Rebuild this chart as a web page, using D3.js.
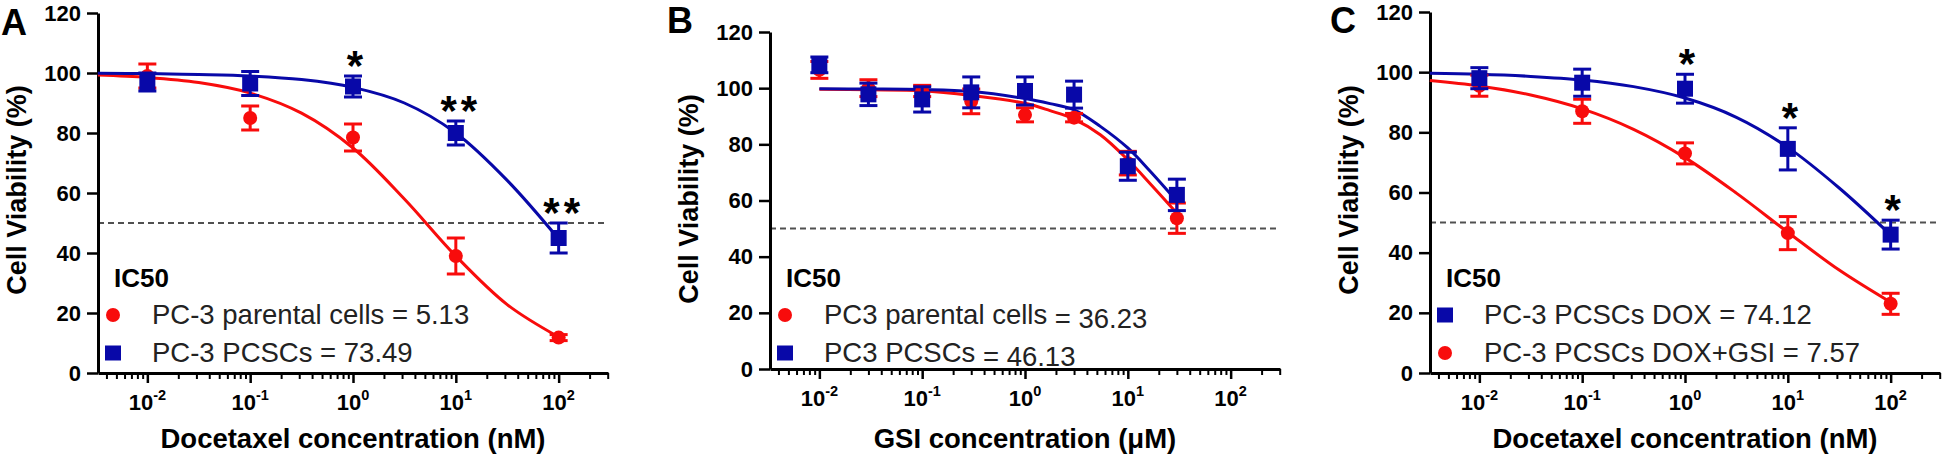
<!DOCTYPE html>
<html><head><meta charset="utf-8">
<script src="https://cdn.jsdelivr.net/npm/d3@7"></script>
<style>body{margin:0;background:#fff}svg{display:block}</style>
</head><body><svg id="c" width="1946" height="455"></svg>
<script>
// ---------- shared labels ----------
const Y_TICKS = [0, 20, 40, 60, 80, 100, 120];
const X_MAJOR_EXP = [-2, -1, 0, 1, 2];
const Y_LABEL = "Cell Viability (%)";
const LEGEND_TITLE = "IC50";

// ---------- Panel A ----------
const A_conc = [0.01, 0.1, 1, 10, 100];
const A_parental_mean = [99, 85, 78.5, 39, 11.8];
const A_parental_sem  = [4, 4, 4.5, 6, 1];
const A_pcsc_mean = [97, 96.5, 95.5, 80, 45];
const A_pcsc_sem  = [3, 4, 3.5, 4, 5];
const A_fit_conc = [0.0033, 0.01, 0.0316, 0.1, 0.316, 1, 3.16, 10, 31.6, 100];
const A_parental_fit = [99.3, 98.5, 96.8, 93.3, 86.6, 75, 58, 39, 22.8, 12];
const A_pcsc_fit     = [99.9, 99.8, 99.5, 99, 97.8, 95.2, 90, 80, 64.2, 44.7];
const A_legend = ["PC-3 parental cells = 5.13", "PC-3 PCSCs = 73.49"];
const A_star_conc = [1, 10, 100];
const A_star_text = ["*", "**", "**"];
const A_xlabel = "Docetaxel concentration (nM)";

// ---------- Panel B ----------
const B_conc = [0.01, 0.03, 0.1, 0.3, 1, 3, 10, 30];
const B_parental_mean = [106.5, 100, 99, 95.3, 90.5, 89.5, 73.3, 53.7];
const B_parental_sem  = [3, 3, 2, 4.4, 2.5, 1.5, 4.2, 5.4];
const B_pcsc_mean = [108.3, 97.8, 96, 98.5, 99, 97.7, 72.2, 62];
const B_pcsc_sem  = [2.8, 4, 4.5, 5.5, 5, 4.8, 5, 5.6];
const B_fit_conc = [0.01, 0.03, 0.1, 0.3, 1, 1.75, 3, 5.4, 10, 16.5, 30];
const B_parental_fit = [99.6, 99.4, 99.1, 97.4, 94.6, 92, 89, 83.4, 74.5, 66, 55.5];
const B_pcsc_fit     = [99.8, 99.7, 99.5, 98.8, 96.3, 94.5, 92.3, 86.4, 78.7, 70.4, 59.7];
const B_legend_name = ["PC3 parental cells", "PC3 PCSCs"];
const B_legend_val  = ["= 36.23", "= 46.13"];
const B_xlabel = "GSI concentration (\u03bcM)";

// ---------- Panel C ----------
const C_conc = [0.01, 0.1, 1, 10, 100];
const C_dox_mean = [98, 96.5, 94.5, 74.5, 46];
const C_dox_sem  = [3.5, 4.5, 4.8, 7, 4.8];
const C_doxgsi_mean = [95.5, 87, 73, 46.5, 23];
const C_doxgsi_sem  = [3.5, 4, 3.5, 5.5, 3.5];
const C_fit_conc = [0.0033, 0.01, 0.0316, 0.1, 0.316, 1, 3.16, 10, 31.6, 100];
const C_dox_fit    = [99.6, 99.3, 98.6, 97.4, 95.2, 91.4, 85, 75, 61.5, 45.9];
const C_doxgsi_fit = [97.2, 95.4, 92.4, 87.8, 81, 71.6, 59.8, 46.8, 34.2, 23.5];
const C_legend = ["PC-3 PCSCs DOX = 74.12", "PC-3 PCSCs DOX+GSI = 7.57"];
const C_star_conc = [1, 10, 100];
const C_star_text = ["*", "*", "*"];
const C_xlabel = "Docetaxel concentration (nM)";

// ---------- style ----------
const FONT = "Arial, 'Liberation Sans', Helvetica, sans-serif";
const RED = "#f80c0c", BLUE = "#0808a8";
const svg = d3.select("#c");

function zip(xs, ys) { return xs.map((x, i) => [x, ys[i]]); }

const panels = [
  { letter: "A", lx: 1, ly: 35, x0: 98, yTop: 13, yBot: 373, ylabelY: 190, xlabel: A_xlabel,
    series: [
      { color: RED, shape: "circle", conc: A_conc, mean: A_parental_mean, sem: A_parental_sem, fit: zip(A_fit_conc, A_parental_fit) },
      { color: BLUE, shape: "square", conc: A_conc, mean: A_pcsc_mean, sem: A_pcsc_sem, fit: zip(A_fit_conc, A_pcsc_fit) }
    ],
    legend: [{ shape: "circle", color: RED, text: A_legend[0] }, { shape: "square", color: BLUE, text: A_legend[1] }],
    stars: { conc: A_star_conc, text: A_star_text, ref: 1 } },
  { letter: "B", lx: 667, ly: 33, x0: 770, yTop: 32, yBot: 369, ylabelY: 199, xlabel: B_xlabel,
    series: [
      { color: RED, shape: "circle", conc: B_conc, mean: B_parental_mean, sem: B_parental_sem, fit: zip(B_fit_conc, B_parental_fit) },
      { color: BLUE, shape: "square", conc: B_conc, mean: B_pcsc_mean, sem: B_pcsc_sem, fit: zip(B_fit_conc, B_pcsc_fit) }
    ],
    legend: [{ shape: "circle", color: RED, text: B_legend_name[0], val: B_legend_val[0] },
             { shape: "square", color: BLUE, text: B_legend_name[1], val: B_legend_val[1] }],
    stars: null },
  { letter: "C", lx: 1330, ly: 33, x0: 1430, yTop: 12, yBot: 373, ylabelY: 190, xlabel: C_xlabel,
    series: [
      { color: RED, shape: "circle", conc: C_conc, mean: C_doxgsi_mean, sem: C_doxgsi_sem, fit: zip(C_fit_conc, C_doxgsi_fit) },
      { color: BLUE, shape: "square", conc: C_conc, mean: C_dox_mean, sem: C_dox_sem, fit: zip(C_fit_conc, C_dox_fit) }
    ],
    legend: [{ shape: "square", color: BLUE, text: C_legend[0] }, { shape: "circle", color: RED, text: C_legend[1] }],
    stars: { conc: C_star_conc, text: C_star_text, ref: 1 } }
];

const LOG_MIN = -2.48, LOG_MAX = 2.48, AXIS_W = 510;

panels.forEach(p => {
  const g = svg.append("g");
  const x = d3.scaleLog().domain([Math.pow(10, LOG_MIN), Math.pow(10, LOG_MAX)]).range([p.x0, p.x0 + AXIS_W]);
  const y = d3.scaleLinear().domain([0, 120]).range([p.yBot, p.yTop]);

  // panel letter
  g.append("text").attr("x", p.lx).attr("y", p.ly).text(p.letter)
    .attr("font-family", FONT).attr("font-weight", "bold").attr("font-size", 36);

  // dashed 50% line
  g.append("line").attr("x1", x.range()[0]).attr("x2", x.range()[1])
    .attr("y1", y(50)).attr("y2", y(50))
    .attr("stroke", "#505050").attr("stroke-width", 2).attr("stroke-dasharray", "6 4");

  // y axis
  const ya = g.append("g").attr("transform", `translate(${p.x0},0)`)
    .call(d3.axisLeft(y).tickValues(Y_TICKS).tickSize(11).tickSizeOuter(0).tickPadding(6));
  ya.select(".domain").attr("stroke", "#000").attr("stroke-width", 3);
  ya.selectAll(".tick line").attr("stroke", "#000").attr("stroke-width", 2.5);
  ya.selectAll(".tick text").attr("font-family", FONT).attr("font-weight", "bold")
    .attr("font-size", 22).attr("fill", "#000");

  // x axis minor ticks
  const minors = [];
  for (let k = -3; k <= 2; k++) for (let m = 2; m <= 9; m++) {
    const v = m * Math.pow(10, k);
    const lv = Math.log10(v);
    if (lv >= LOG_MIN && lv <= LOG_MAX) minors.push(v);
  }
  const xm = g.append("g").attr("transform", `translate(0,${p.yBot})`)
    .call(d3.axisBottom(x).tickValues(minors).tickSize(6).tickSizeOuter(0).tickFormat(() => ""));
  xm.select(".domain").remove();
  xm.selectAll(".tick line").attr("stroke", "#000").attr("stroke-width", 2);

  const majors = X_MAJOR_EXP.map(e => Math.pow(10, e));
  const xa = g.append("g").attr("transform", `translate(0,${p.yBot})`)
    .call(d3.axisBottom(x).tickValues(majors).tickSize(10).tickSizeOuter(0).tickFormat(() => ""));
  xa.select(".domain").attr("stroke", "#000").attr("stroke-width", 3);
  xa.selectAll(".tick line").attr("stroke", "#000").attr("stroke-width", 2.5);

  // x tick labels 10^n
  X_MAJOR_EXP.forEach(e => {
    const t = g.append("text").attr("x", x(Math.pow(10, e))).attr("y", p.yBot + 37)
      .attr("text-anchor", "middle").attr("font-family", FONT).attr("font-weight", "bold")
      .attr("font-size", 22);
    t.append("tspan").text("10");
    t.append("tspan").attr("dy", -10).attr("font-size", 14.5).text(String(e));
  });

  // axis titles
  g.append("text").attr("x", p.x0 + AXIS_W / 2).attr("y", 448).attr("text-anchor", "middle")
    .attr("font-family", FONT).attr("font-weight", "bold").attr("font-size", 27.5).text(p.xlabel);
  g.append("text").attr("transform", `translate(${p.x0 - 72},${p.ylabelY}) rotate(-90)`)
    .attr("text-anchor", "middle").attr("font-family", FONT).attr("font-weight", "bold")
    .attr("font-size", 27).text(Y_LABEL);

  // fitted curves
  const line = d3.line().x(d => x(d[0])).y(d => y(d[1])).curve(d3.curveCatmullRom.alpha(0.5));
  p.series.forEach(s => {
    g.append("path").attr("d", line(s.fit)).attr("fill", "none")
      .attr("stroke", s.color).attr("stroke-width", 3);
  });

  // error bars and markers
  p.series.forEach(s => {
    const sg = g.append("g");
    s.conc.forEach((c, i) => {
      const cx = x(c), top = y(s.mean[i] + s.sem[i]), bot = y(s.mean[i] - s.sem[i]);
      sg.append("line").attr("x1", cx).attr("x2", cx).attr("y1", top).attr("y2", bot)
        .attr("stroke", s.color).attr("stroke-width", 3);
      [top, bot].forEach(yy => sg.append("line").attr("x1", cx - 9).attr("x2", cx + 9)
        .attr("y1", yy).attr("y2", yy).attr("stroke", s.color).attr("stroke-width", 3));
      const cy = y(s.mean[i]);
      if (s.shape === "circle") sg.append("circle").attr("cx", cx).attr("cy", cy).attr("r", 7).attr("fill", s.color);
      else sg.append("rect").attr("x", cx - 8).attr("y", cy - 8).attr("width", 16).attr("height", 16).attr("fill", s.color);
    });
  });

  // significance stars
  if (p.stars) {
    const s = p.series[p.stars.ref];
    p.stars.conc.forEach((c, i) => {
      const idx = s.conc.indexOf(c);
      const capY = y(s.mean[idx] + s.sem[idx]);
      const txt = p.stars.text[i];
      g.append("text").attr("x", x(c) + (txt.length > 1 ? 5 : 2)).attr("y", capY + 4)
        .attr("text-anchor", "middle").attr("font-family", FONT).attr("font-weight", "bold")
        .attr("font-size", 42).attr("letter-spacing", txt.length > 1 ? 4 : 0).text(txt);
    });
  }

  // legend
  const lg = g.append("g");
  lg.append("text").attr("x", p.x0 + 16).attr("y", 287).attr("font-family", FONT)
    .attr("font-weight", "bold").attr("font-size", 26).text(LEGEND_TITLE);
  p.legend.forEach((L, i) => {
    const my = i === 0 ? 315 : 353;
    const mx = p.x0 + 15;
    if (L.shape === "circle") lg.append("circle").attr("cx", mx).attr("cy", my).attr("r", 7).attr("fill", L.color);
    else lg.append("rect").attr("x", mx - 8).attr("y", my - 7.5).attr("width", 16).attr("height", 15).attr("fill", L.color);
    const t = lg.append("text").attr("x", mx + 39).attr("y", my + 9).attr("font-family", FONT)
      .attr("font-size", 27.5).attr("fill", "#222");
    t.append("tspan").text(L.text);
    if (L.val) t.append("tspan").attr("dy", 4).text(" " + L.val);
  });
});
</script></body></html>
